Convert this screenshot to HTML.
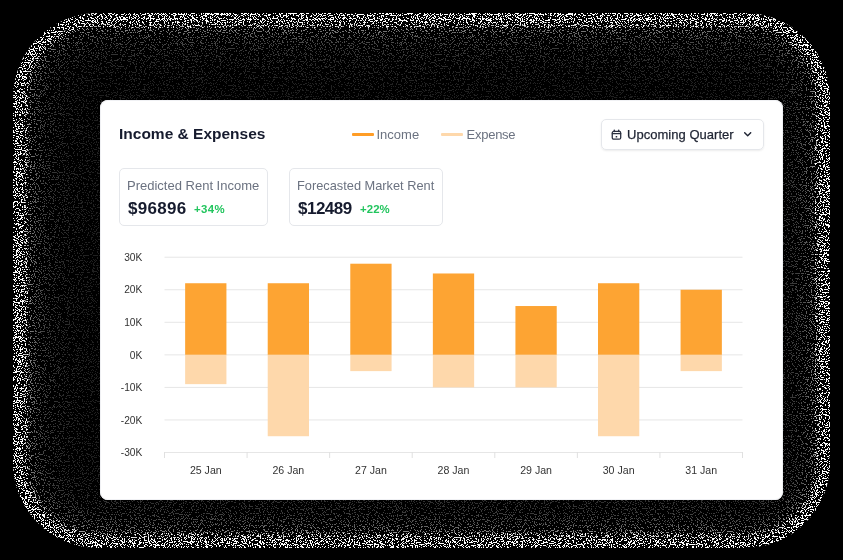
<!DOCTYPE html>
<html><head><meta charset="utf-8">
<style>
*{box-sizing:border-box;margin:0;padding:0}
html,body{width:843px;height:560px;background:#000;overflow:hidden;font-family:"Liberation Sans",sans-serif;}
svg{position:absolute;left:0;top:0;width:843px;height:560px}
#card{position:absolute;left:100px;top:100px;width:683px;height:400px;background:#fff;border-radius:8px;box-shadow:inset 0 0 0 1px #f0f1f4;}
#wrap{position:absolute;left:0;top:0;width:843px;height:560px;opacity:0.999}
.abs{position:absolute;white-space:nowrap}
#title{left:19px;top:24px;font-size:15.5px;font-weight:700;color:#161b2e;line-height:20px}
.leg{font-size:13px;color:#6b7280;line-height:16px;top:27px}
.legline{position:absolute;height:3px;border-radius:1px;top:33px}
#dd{left:501px;top:19px;width:163px;height:30.5px;border:1px solid #e5e7eb;border-radius:5px;box-shadow:0 1px 2px rgba(0,0,0,.08)}
#dd span{position:absolute;left:25px;top:6.5px;font-size:13px;color:#1f2433;line-height:16px;-webkit-text-stroke:0.25px #1f2433;letter-spacing:0.03px}
.stat{position:absolute;top:67.5px;height:58.5px;border:1px solid #e5e7eb;border-radius:5px}
.stat .l{position:absolute;left:7px;top:9px;font-size:13px;color:#6b7280;line-height:16px;white-space:nowrap}
.stat .v{position:absolute;left:8px;top:30px;font-size:17px;font-weight:700;color:#161b2e;line-height:20px;white-space:nowrap}
.stat .p{position:absolute;top:33.5px;letter-spacing:0.4px;font-size:11.4px;font-weight:700;color:#22c55e;line-height:14px;white-space:nowrap}
.ax{font-family:"Liberation Sans",sans-serif;font-size:10.6px;fill:#333}.ay{font-size:10.2px}
</style></head><body>
<svg id="bg" width="843" height="560" viewBox="0 0 843 560">
<defs>
<filter id="noise" x="0" y="0" width="843" height="560" filterUnits="userSpaceOnUse" color-interpolation-filters="sRGB">
<feTurbulence type="fractalNoise" baseFrequency="0.79 0.83" numOctaves="1" seed="7" result="t"/>
<feColorMatrix in="t" type="matrix" values="0 0 0 0 1  0 0 0 0 1  0 0 0 0 1  -200 0 0 0 83.4" result="m"/>
<feComposite in="SourceGraphic" in2="m" operator="in"/>
</filter>
<filter id="noise2" x="0" y="0" width="843" height="560" filterUnits="userSpaceOnUse" color-interpolation-filters="sRGB">
<feTurbulence type="fractalNoise" baseFrequency="0.81 0.77" numOctaves="1" seed="23" result="t"/>
<feColorMatrix in="t" type="matrix" values="0 0 0 0 1  0 0 0 0 1  0 0 0 0 1  0 -200 0 0 78.4" result="m"/>
<feComposite in="SourceGraphic" in2="m" operator="in"/>
</filter>
<filter id="noise3" x="0" y="0" width="843" height="560" filterUnits="userSpaceOnUse" color-interpolation-filters="sRGB">
<feTurbulence type="fractalNoise" baseFrequency="0.83 0.79" numOctaves="1" seed="41" result="t"/>
<feColorMatrix in="t" type="matrix" values="0 0 0 0 1  0 0 0 0 1  0 0 0 0 1  0 0 -200 0 73.4" result="m"/>
<feComposite in="SourceGraphic" in2="m" operator="in"/>
</filter>
</defs>
<g filter="url(#noise)">
<rect x="13" y="13" width="817" height="535" rx="85" fill="rgb(255,255,255)"/>
<rect x="22" y="22" width="799" height="517" rx="76" fill="rgb(244,244,244)"/>
<rect x="23" y="23" width="797" height="515" rx="75" fill="rgb(221,221,221)"/>
<rect x="24" y="24" width="795" height="513" rx="74" fill="rgb(201,201,201)"/>
<rect x="25" y="25" width="793" height="511" rx="73" fill="rgb(183,183,183)"/>
<rect x="26" y="26" width="791" height="509" rx="72" fill="rgb(168,168,168)"/>
<rect x="27" y="27" width="789" height="507" rx="71" fill="rgb(155,155,155)"/>
<rect x="28" y="28" width="787" height="505" rx="70" fill="rgb(144,144,144)"/>
<rect x="29" y="29" width="785" height="503" rx="69" fill="rgb(129,129,129)"/>
<rect x="31" y="31" width="781" height="499" rx="67" fill="rgb(114,114,114)"/>
<rect x="33" y="33" width="777" height="495" rx="65" fill="rgb(102,102,102)"/>
<rect x="35" y="35" width="773" height="491" rx="63" fill="rgb(92,92,92)"/>
<rect x="37" y="37" width="769" height="487" rx="61" fill="rgb(82,82,82)"/>
<rect x="40" y="40" width="763" height="481" rx="58" fill="rgb(74,74,74)"/>
<rect x="43" y="43" width="757" height="475" rx="55" fill="rgb(66,66,66)"/>
<rect x="47" y="47" width="749" height="467" rx="51" fill="rgb(59,59,59)"/>
<rect x="51" y="51" width="741" height="459" rx="47" fill="rgb(53,53,53)"/>
<rect x="56" y="56" width="731" height="449" rx="42" fill="rgb(48,48,48)"/>
<rect x="61" y="61" width="721" height="439" rx="37" fill="rgb(44,44,44)"/>
<rect x="67" y="67" width="709" height="427" rx="31" fill="rgb(40,40,40)"/>
<rect x="74" y="74" width="695" height="413" rx="24" fill="rgb(37,37,37)"/>
<rect x="82" y="82" width="679" height="397" rx="16" fill="rgb(34,34,34)"/>
<rect x="91" y="91" width="661" height="379" rx="7" fill="rgb(32,32,32)"/>
</g>
<g filter="url(#noise2)">
<rect x="18" y="18" width="807" height="525" rx="80" fill="none" stroke="#fff" stroke-width="10"/>
</g>
<g filter="url(#noise3)">
<rect x="25.5" y="25.5" width="792" height="510" rx="72.5" fill="none" stroke="#fff" stroke-width="5"/>
</g>
</svg>
<div id="wrap">
<div id="card">
<div class="abs" id="title">Income &amp; Expenses</div>
<div class="legline" style="left:251.8px;width:21.9px;background:#ff9d26"></div>
<div class="abs leg" style="left:276.5px">Income</div>
<div class="legline" style="left:341.4px;width:21.7px;background:#fed8ab"></div>
<div class="abs leg" style="left:366.5px;letter-spacing:-0.25px">Expense</div>
<div class="abs" id="dd"><svg style="left:9.1px;top:9px;width:12px;height:12px" width="12" height="12" viewBox="0 0 12 12" fill="none" stroke="#2a3040" stroke-width="1.3" stroke-linecap="round" stroke-linejoin="round"><rect x="1.25" y="2.45" width="8.45" height="7.7" rx="1.5"/><path d="M1.3 4.7H9.7" stroke-width="1.2"/><path d="M3.3 1.2V2.6M7.7 1.2V2.6" stroke-width="1.5"/><rect x="4.7" y="7" width="1.5" height="1.5" fill="#2a3040" stroke="none"/></svg><svg style="left:142.4px;top:12.1px;width:9px;height:6px" width="9" height="6" viewBox="0 0 9 6" fill="none" stroke="#1f2433" stroke-width="1.4" stroke-linecap="round" stroke-linejoin="round"><path d="M0.7 0.7L3.7 3.8L6.7 0.7"/></svg><span>Upcoming Quarter</span></div>
<div class="stat" style="left:19px;width:149px"><div class="l">Predicted Rent Income</div><div class="v" style="letter-spacing:0.3px">$96896</div><div class="p" style="left:74px">+34%</div></div>
<div class="stat" style="left:189px;width:154px"><div class="l" style="font-size:12.8px">Forecasted Market Rent</div><div class="v" style="letter-spacing:-0.5px">$12489</div><div class="p" style="left:70px;letter-spacing:0.1px">+22%</div></div>
</div>
<svg id="chart" width="843" height="560" viewBox="0 0 843 560">
<rect x="164.5" y="256.70" width="578" height="1" fill="#e6e6e6"/>
<text x="142.3" y="260.90" text-anchor="end" class="ax ay">30K</text>
<rect x="164.5" y="289.25" width="578" height="1" fill="#e6e6e6"/>
<text x="142.3" y="293.45" text-anchor="end" class="ax ay">20K</text>
<rect x="164.5" y="321.80" width="578" height="1" fill="#e6e6e6"/>
<text x="142.3" y="326.00" text-anchor="end" class="ax ay">10K</text>
<rect x="164.5" y="354.35" width="578" height="1" fill="#e6e6e6"/>
<text x="142.3" y="358.55" text-anchor="end" class="ax ay">0K</text>
<rect x="164.5" y="386.90" width="578" height="1" fill="#e6e6e6"/>
<text x="142.3" y="391.10" text-anchor="end" class="ax ay">-10K</text>
<rect x="164.5" y="419.45" width="578" height="1" fill="#e6e6e6"/>
<text x="142.3" y="423.65" text-anchor="end" class="ax ay">-20K</text>
<rect x="164.5" y="452.00" width="578" height="1" fill="#e6e6e6"/>
<text x="142.3" y="456.20" text-anchor="end" class="ax ay">-30K</text>
<rect x="164.00" y="452" width="1" height="6" fill="#e0e0e0"/>
<rect x="246.57" y="452" width="1" height="6" fill="#e0e0e0"/>
<rect x="329.14" y="452" width="1" height="6" fill="#e0e0e0"/>
<rect x="411.71" y="452" width="1" height="6" fill="#e0e0e0"/>
<rect x="494.29" y="452" width="1" height="6" fill="#e0e0e0"/>
<rect x="576.86" y="452" width="1" height="6" fill="#e0e0e0"/>
<rect x="659.43" y="452" width="1" height="6" fill="#e0e0e0"/>
<rect x="742.00" y="452" width="1" height="6" fill="#e0e0e0"/>
<rect x="185.14" y="283.24" width="41.29" height="71.61" fill="#fda433"/>
<rect x="185.14" y="354.85" width="41.29" height="29.29" fill="#fed8ab"/>
<text x="205.79" y="474.1" text-anchor="middle" class="ax">25 Jan</text>
<rect x="267.71" y="283.24" width="41.29" height="71.61" fill="#fda433"/>
<rect x="267.71" y="354.85" width="41.29" height="81.38" fill="#fed8ab"/>
<text x="288.36" y="474.1" text-anchor="middle" class="ax">26 Jan</text>
<rect x="350.29" y="263.71" width="41.29" height="91.14" fill="#fda433"/>
<rect x="350.29" y="354.85" width="41.29" height="16.27" fill="#fed8ab"/>
<text x="370.93" y="474.1" text-anchor="middle" class="ax">27 Jan</text>
<rect x="432.86" y="273.48" width="41.29" height="81.38" fill="#fda433"/>
<rect x="432.86" y="354.85" width="41.29" height="32.55" fill="#fed8ab"/>
<text x="453.50" y="474.1" text-anchor="middle" class="ax">28 Jan</text>
<rect x="515.43" y="306.03" width="41.29" height="48.82" fill="#fda433"/>
<rect x="515.43" y="354.85" width="41.29" height="32.55" fill="#fed8ab"/>
<text x="536.07" y="474.1" text-anchor="middle" class="ax">29 Jan</text>
<rect x="598.00" y="283.24" width="41.29" height="71.61" fill="#fda433"/>
<rect x="598.00" y="354.85" width="41.29" height="81.38" fill="#fed8ab"/>
<text x="618.64" y="474.1" text-anchor="middle" class="ax">30 Jan</text>
<rect x="680.57" y="289.75" width="41.29" height="65.10" fill="#fda433"/>
<rect x="680.57" y="354.85" width="41.29" height="16.27" fill="#fed8ab"/>
<text x="701.21" y="474.1" text-anchor="middle" class="ax">31 Jan</text>
</svg>
</div>
</body></html>
